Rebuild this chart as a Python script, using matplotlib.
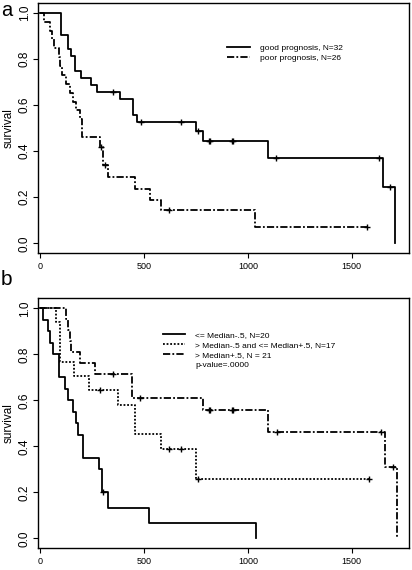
"""Kaplan-Meier survival curves, two panels (a: prognosis groups, b: median split)."""
import matplotlib
matplotlib.use("Agg")
import matplotlib.pyplot as plt
import numpy as np
from matplotlib.lines import Line2D

plt.rcParams["font.family"] = ["Liberation Sans", "DejaVu Sans"]

# ── Panel a data (event times / survival after each event, censor times) ──
good_t = [100, 135, 151, 167, 196, 244, 276, 385, 447, 466, 753, 782, 1095, 1651, 1710]
good_s = [0.906, 0.844, 0.812, 0.75, 0.719, 0.688, 0.656, 0.625, 0.557, 0.525,
          0.487, 0.443, 0.369, 0.246, 0.0]
good_cens = [352, 484, 678, 758, 814, 820, 922, 930, 1135, 1632, 1686]

poor_t = [19, 50, 58, 67, 90, 98, 106, 127, 143, 159, 175, 191, 204, 287, 303, 327,
          455, 527, 583, 1034]
poor_s = [0.962, 0.923, 0.885, 0.846, 0.808, 0.769, 0.731, 0.692, 0.654, 0.615, 0.577,
          0.538, 0.462, 0.42, 0.34, 0.289, 0.238, 0.19, 0.144, 0.072]
poor_cens = [293, 313, 623, 1575]

# ── Panel b data ──
low_t = [16, 40, 48, 64, 93, 120, 136, 160, 173, 184, 205, 285, 297, 326, 524, 1038]
low_s = [0.95, 0.90, 0.85, 0.80, 0.70, 0.65, 0.60, 0.55, 0.50, 0.45, 0.35, 0.30, 0.20,
         0.133, 0.067, 0.0]
low_cens = [305]

mid_t = [75, 95, 163, 234, 375, 455, 580, 753]
mid_s = [0.941, 0.765, 0.706, 0.647, 0.582, 0.453, 0.388, 0.259]
mid_cens = [287, 620, 678, 758, 1583]

high_t = [127, 135, 143, 151, 191, 266, 444, 782, 1098, 1658, 1718]
high_s = [0.952, 0.905, 0.857, 0.81, 0.762, 0.714, 0.612, 0.557, 0.464, 0.309, 0.0]
high_cens = [351, 479, 814, 820, 922, 930, 1138, 1638, 1696]

labels_a = ["good prognosis, N=32", "poor prognosis, N=26"]
labels_b = ["<= Median-.5, N=20", "> Median-.5 and <= Median+.5, N=17",
            "> Median+.5, N = 21", "p-value=.0000"]

DASHDOT = (0, (4, 1.2, 1, 1.2))
DOTTED = (0, (1, 1))


def km_curve(ax, t, s, cens, ls):
    x = [0] + list(t)
    y = [1.0] + list(s)
    if cens and max(cens) > x[-1]:
        x.append(max(cens))
        y.append(y[-1])
    ax.step(x, y, where="post", color="black", lw=1.3, ls=ls)
    x = np.array(x)
    cy = [y[np.searchsorted(x, c, side="right") - 1] for c in cens]
    ax.plot(cens, cy, ls="none", marker="+", ms=5, mew=1.0, color="black")


def style_axes(ax):
    ax.set_xlim(-7, 1775)
    ax.set_ylim(-0.043, 1.044)
    ax.set_xticks([0, 500, 1000, 1500])
    ax.set_yticks([0, 0.2, 0.4, 0.6, 0.8, 1.0])
    ax.set_yticklabels(["0.0", "0.2", "0.4", "0.6", "0.8", "1.0"])
    ax.tick_params(axis="x", labelsize=6.5, length=3.5, width=0.8, pad=2.5)
    ax.tick_params(axis="y", labelsize=8.5, length=3.5, width=0.8, pad=2,
                   labelrotation=90)
    for lab in ax.get_yticklabels():
        lab.set_va("center")
    for sp in ax.spines.values():
        sp.set_linewidth(1.0)
    ax.set_ylabel("survival", fontsize=8.5, labelpad=3)


fig = plt.figure(figsize=(4.12, 5.70), dpi=100)
ax_a = fig.add_axes([0.0934, 0.5556, 0.8993, 0.4396])
ax_b = fig.add_axes([0.0934, 0.0381, 0.8993, 0.4386])

# Panel a
km_curve(ax_a, good_t, good_s, good_cens, "-")
km_curve(ax_a, poor_t, poor_s, poor_cens, DASHDOT)
style_axes(ax_a)
handles_a = [Line2D([], [], color="black", lw=1.3, ls="-"),
             Line2D([], [], color="black", lw=1.3, ls=DASHDOT)]
ax_a.legend(handles_a, labels_a, loc="upper left", bbox_to_anchor=(0.51, 0.835),
            frameon=False, fontsize=6, handlelength=2.7, handletextpad=1.2,
            labelspacing=0.3, borderpad=0, borderaxespad=0)

# Panel b
km_curve(ax_b, low_t, low_s, low_cens, "-")
km_curve(ax_b, mid_t, mid_s, mid_cens, DOTTED)
km_curve(ax_b, high_t, high_s, high_cens, DASHDOT)
style_axes(ax_b)
handles_b = [Line2D([], [], color="black", lw=1.3, ls="-"),
             Line2D([], [], color="black", lw=1.3, ls=DOTTED),
             Line2D([], [], color="black", lw=1.3, ls=DASHDOT),
             Line2D([], [], color="none")]
ax_b.legend(handles_b, labels_b, loc="upper left", bbox_to_anchor=(0.335, 0.87),
            frameon=False, fontsize=6, handlelength=2.7, handletextpad=1.2,
            labelspacing=0.28, borderpad=0, borderaxespad=0)

fig.text(0.002, 0.999, "a", fontsize=14.5, va="top", ha="left")
fig.text(0.002, 0.5, "b", fontsize=15, va="baseline", ha="left")

fig.savefig("out.png", dpi=100)
